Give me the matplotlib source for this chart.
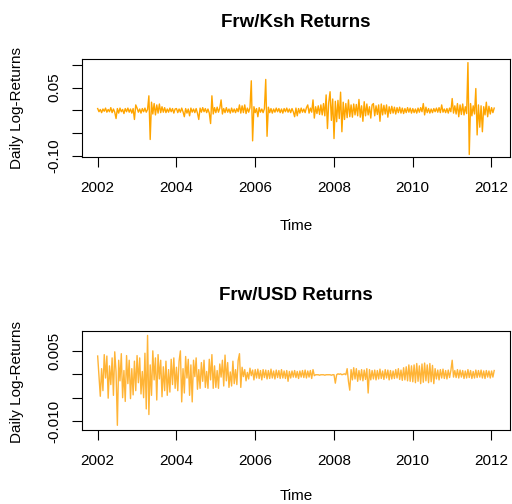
import numpy as np
import matplotlib
matplotlib.use("Agg")
import matplotlib.pyplot as plt

plt.rcParams["font.family"] = ["Liberation Sans", "DejaVu Sans"]

# Frw/Ksh daily log-returns (units of 0.001)
ksh_ret = np.array([
    4, -3, 2, -5, 3, -2, 5, -4, 2, -3, 6, -5, 3, -4, -18, 4, -6, 5, -3, 2, -7, 4, -3, 5, -4, 3, -6, 4, -20, 12,
    5, -4, 3, -6, 4, -3, 5, -4, 2, 32, -64, 18, -8, 15, -10, 12, -6, 14, -5, 8, -4, 6, -5, 3, -4, 5, -3, 4, -6, 3,
    4, -5, 3, -4, 5, -3, -14, 4, -6, 3, -12, 5, -4, 3, -5, 4, -6, -20, 5, -4, 6, -3, 4, -5, 3, -6, -29, 32, -8, 6,
    -5, 7, -4, 5, 23, -8, 4, -5, 6, -4, 3, -6, 5, -4, 3, -5, 4, -3, 12, -6, 10, -5, 12, -7, 5, -4, 6, 65, -67, 8,
    -5, 4, -14, 6, -4, 3, -5, 4, 68, -57, 7, -5, 4, -6, 3, -4, 5, -3, 4, -5, 3, -6, 4, -3, 5, -4, 3, -5, 4, -3,
    -14, 5, -12, 4, -6, 5, -4, 3, -5, 6, 12, -6, 5, -4, 23, -17, 8, -7, 10, -9, 12, -10, 15, -12, 34, -40, 18, 41, -22, 25,
    -62, 20, -25, 22, -18, 40, -47, 18, -20, 15, -16, 23, -14, 12, -15, 14, -10, 13, -12, 24, -15, 10, -24, 19, -12, 14, -10, 8, -17, 12,
    15, -12, 10, -9, 12, -24, 14, -10, 11, -8, 12, -15, 8, -7, 9, -6, 7, -8, 6, -5, 7, -6, 5, -7, 4, -5, 6, -4, 5, -6,
    4, -5, 3, -6, 5, -4, 6, -3, 15, -10, 7, -5, 4, -6, 3, -5, 4, -3, 5, -4, 6, -5, 12, -4, 3, -5, 4, -6, 5, -3,
    26, -6, 10, -8, 15, -14, 12, -9, 14, -10, 8, -7, 105, -97, 15, -12, 10, -8, 48, -54, 12, -37, 10, -47, 8, -10, 18, -14, 9, -8,
    6, -5, 5,
]) * 1e-3

# Frw/USD daily log-returns (units of 0.0001)
usd_ret = np.array([
    39, -5, -47, 12, -35, 42, -8, 39, -51, 18, -22, 35, -45, 48, 5, -109, 30, -14, 44, -50, 8, -58, 40, -20, 30, -52, 12, -44, 28, -35,
    40, -18, 35, -42, 6, -50, 45, -74, 83, -86, 20, -45, 50, -12, 35, -55, 42, -10, 30, -48, 16, -35, 28, -45, 10, -38, 32, -22, 35, -30,
    15, -35, 28, 50, -59, 12, -40, 38, -8, 32, -45, 20, -59, 30, -5, 35, -32, 10, -30, 25, -15, 30, -28, 6, -30, 32, -12, 42, -30, 18,
    -28, 8, -30, 22, -6, 30, -25, 41, -14, 25, -28, 5, -25, 28, -20, 10, -22, 30, 44, -28, 15, -5, 10, -14, 4, -10, 13, -3, 9, -12,
    10, -8, 11, -9, 8, -12, 10, -7, 9, -10, 8, -9, 11, -8, 7, -10, 9, -7, 8, -9, 10, -8, 7, -9, 8, -15, 6, -8, 7, -6,
    8, -7, 6, -9, 7, -6, 8, -7, 9, -8, 7, -6, 8, -9, 10, -3, -1, -1, -1, -2, -1, -1, -1, -2, -1, -1, -1, -1, -2, -1,
    -1, -19, -1, 1, 0, 1, -1, 0, 1, -1, 12, -15, -34, 10, -12, 14, -10, 12, -15, 8, -12, 10, -14, 9, -11, 12, -40, 10, -12, 8,
    -10, 9, -12, 8, -10, 11, -9, 7, -11, 10, -8, 9, -12, 8, -10, 7, -9, 10, -8, 12, -11, 9, -13, 14, -12, 16, -14, 20, -15, 18,
    -16, 20, -18, 23, -15, 18, -20, 22, -17, 24, -14, 20, -18, 23, -16, 19, -20, 12, -10, 9, -12, 10, -8, 11, -9, 8, -10, 9, -7, 8,
    30, -6, 8, -7, 10, -8, 9, -6, 8, -9, 7, -8, 10, -7, 8, -9, 6, -8, 9, -7, 8, -6, 9, -8, 7, -9, 8, -6, 7, -8,
    7, -6, 8,
]) * 1e-4

start, end = 2002.0, 2012.07
ksh_t = np.linspace(start, end, len(ksh_ret))
usd_t = np.linspace(start, end, len(usd_ret))

year_ticks = [2002, 2004, 2006, 2008, 2010, 2012]

panels = [
    dict(t=ksh_t, y=ksh_ret, color="#FFA500", title="Frw/Ksh Returns",
         ylim=(-0.1025, 0.113), yticks=[-0.10, -0.05, 0, 0.05, 0.10],
         ylabels=["-0.10", "", "", "0.05", ""],
         rect=[0.160, 0.6885, 0.836, 0.1945], ty=0.9544, xy=0.5516, yy=0.7857),
    dict(t=usd_t, y=usd_ret, color="#FFB436", title="Frw/USD Returns",
         ylim=(-0.01197, 0.00925), yticks=[-0.010, -0.005, 0, 0.005],
         ylabels=["-0.010", "", "", "0.005"],
         rect=[0.160, 0.1462, 0.836, 0.1971], ty=0.4133, xy=0.0149, yy=0.2427),
]

fig = plt.figure(figsize=(5.12, 5.04), dpi=100)

for p in panels:
    ax = fig.add_axes(p["rect"])
    ax.plot(p["t"], p["y"], color=p["color"], lw=1.0)
    ax.set_xlim(2001.6, 2012.47)
    ax.set_ylim(*p["ylim"])
    ax.set_xticks(year_ticks)
    ax.set_xticklabels([str(y) for y in year_ticks])
    ax.set_yticks(p["yticks"])
    ax.set_yticklabels(p["ylabels"], rotation=90, va="center")
    ax.tick_params(direction="out", length=7, width=0.8, labelsize=11, color="black")
    ax.tick_params(axis="x", pad=10)
    ax.tick_params(axis="y", pad=8)
    for s in ax.spines.values():
        s.set_linewidth(0.8)
    fig.text(0.578, p["ty"], p["title"], ha="center", va="center",
             fontsize=13.5, fontweight="bold")
    fig.text(0.578, p["xy"], "Time", ha="center", va="center", fontsize=11)
    fig.text(0.0332, p["yy"], "Daily Log-Returns", ha="center", va="center",
             rotation=90, fontsize=11)

fig.savefig("out.png", dpi=100)
